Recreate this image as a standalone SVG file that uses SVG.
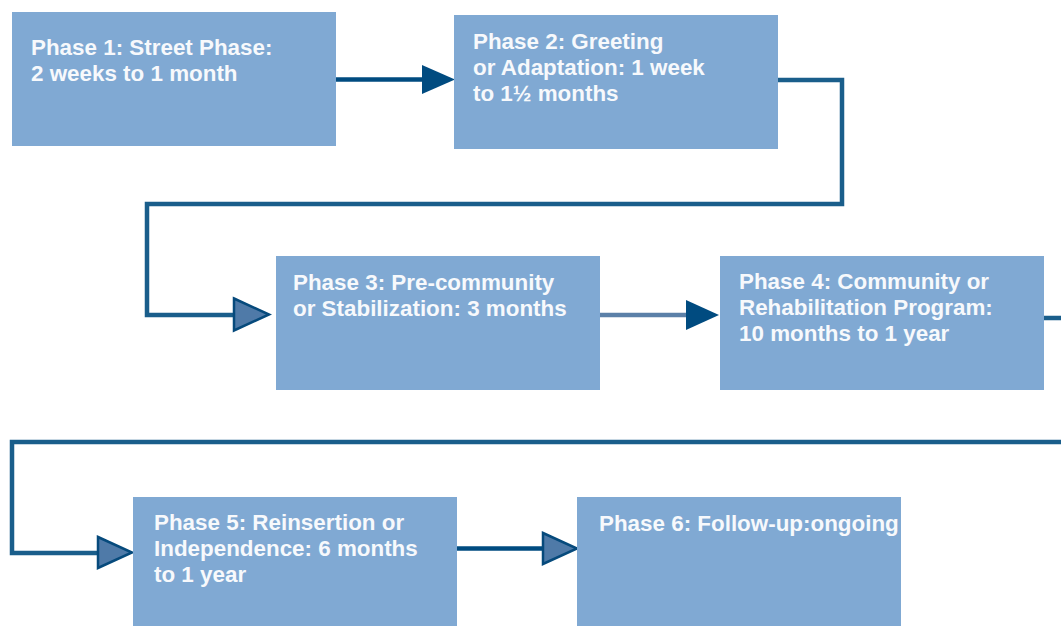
<svg xmlns="http://www.w3.org/2000/svg" width="1061" height="626" viewBox="0 0 1061 626">
<style>
.box{fill:#80a9d3}
.t{font-family:"Liberation Sans",Arial,sans-serif;font-weight:bold;font-size:22.4px;fill:#f7f9fc}
.elbow{fill:none;stroke:#1a5e8b;stroke-width:4.5;stroke-linejoin:miter}
.dark{fill:none;stroke:#004b80;stroke-width:4.5}
.light{fill:none;stroke:#5b80a8;stroke-width:4.5}
.headD{fill:#004b80}
.headL{fill:#4f7aa8;stroke:#064a7c;stroke-width:2.5;stroke-linejoin:miter}
</style>
<rect width="1061" height="626" fill="#ffffff"/>
<g id="connectors">
<line class="dark" x1="336" y1="79.5" x2="424" y2="79.5"/>
<polygon class="headD" points="422,65 455,79.5 422,94"/>
<path class="elbow" d="M778 80 H842 V204 H147 V315 H236"/>
<polygon class="headL" points="234,298.5 269,314.5 234,330.5"/>
<line class="light" x1="600" y1="315" x2="688" y2="315"/>
<polygon class="headD" points="686,300 719,315 686,330"/>
<path class="elbow" d="M1044 318 H1075 V442 H12 V553 H100"/>
<polygon class="headL" points="98,537 132,552.5 98,568"/>
<line class="dark" x1="457" y1="548.5" x2="545" y2="548.5"/>
<polygon class="headL" points="543,533 577,548.5 543,564"/>
</g>
<g id="phase1">
<rect class="box" x="12" y="12" width="324" height="134"/>
<text class="t" x="31" y="55">Phase 1: Street Phase:</text>
<text class="t" x="31" y="81">2 weeks to 1 month</text>
</g>
<g id="phase2">
<rect class="box" x="454" y="15" width="324" height="134"/>
<text class="t" x="473" y="49">Phase 2: Greeting</text>
<text class="t" x="473" y="75">or Adaptation: 1 week</text>
<text class="t" x="473" y="101">to 1½ months</text>
</g>
<g id="phase3">
<rect class="box" x="276" y="256" width="324" height="134"/>
<text class="t" x="293" y="290">Phase 3: Pre-community</text>
<text class="t" x="293" y="316">or Stabilization: 3 months</text>
</g>
<g id="phase4">
<rect class="box" x="720" y="256" width="324" height="134"/>
<text class="t" x="739" y="289">Phase 4: Community or</text>
<text class="t" x="739" y="315">Rehabilitation Program:</text>
<text class="t" x="739" y="341">10 months to 1 year</text>
</g>
<g id="phase5">
<rect class="box" x="133" y="497" width="324" height="134"/>
<text class="t" x="154" y="530">Phase 5: Reinsertion or</text>
<text class="t" x="154" y="556">Independence: 6 months</text>
<text class="t" x="154" y="582">to 1 year</text>
</g>
<g id="phase6">
<rect class="box" x="577" y="497" width="324" height="134"/>
<text class="t" x="599" y="531">Phase 6: Follow-up:ongoing</text>
</g>
</svg>
